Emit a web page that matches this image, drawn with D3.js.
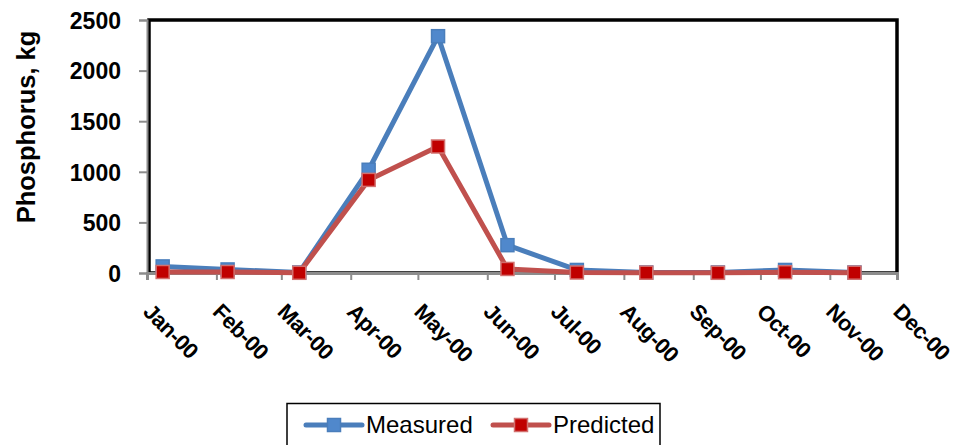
<!DOCTYPE html>
<html lang="en">
<head>
    <meta charset="UTF-8">
    <title>Phosphorus</title>
    <script src="https://cdn.jsdelivr.net/npm/d3@7"></script>
    <style>
        html, body {
            margin: 0;
            padding: 0;
            background: #fff;
            overflow: hidden;
        }
        .tick-label {
            font-family: "Liberation Sans", Arial, sans-serif;
            font-weight: bold;
            font-size: 23px;
            fill: #000;
        }
        .month-label {
            font-size: 22px;
            letter-spacing: -0.5px;
        }
        .line {
            fill: none;
            stroke-width: 5px;
            stroke-linejoin: round;
        }
    </style>
</head>
<body>
</body>
<script>
    // months shown on the axis and the sample dates
    let monthTicks = ['2000-01-01', '2000-02-01', '2000-03-01', '2000-04-01', '2000-05-01', '2000-06-01',
        '2000-07-01', '2000-08-01', '2000-09-01', '2000-10-01', '2000-11-01', '2000-12-01'];
    let sampleDates = ['2000-01-08', '2000-02-06', '2000-03-09', '2000-04-09', '2000-05-10', '2000-06-10',
        '2000-07-11', '2000-08-11', '2000-09-12', '2000-10-12', '2000-11-12'];
    let measured = [65, 35, 5, 1020, 2340, 275, 30, 5, 5, 30, 5];
    let predicted = [10, 10, 2, 920, 1250, 40, 5, 3, 2, 8, 3];
    let yTicks = [0, 500, 1000, 1500, 2000, 2500];
    let seriesNames = ['Measured', 'Predicted'];

    let width = 958;
    let height = 445;
    let margin = {top: 20, right: 61, bottom: 172, left: 147};

    let parse = d3.utcParse('%Y-%m-%d');
    let fmt = d3.utcFormat('%b-%y');

    let svg = d3.select('body').append('svg')
        .attr('width', width)
        .attr('height', height);

    let x = d3.scaleUtc()
        .domain([parse(monthTicks[0]), parse(monthTicks[monthTicks.length - 1])])
        .range([margin.left, width - margin.right]);

    let y = d3.scaleLinear()
        .domain([0, 2500])
        .range([height - margin.bottom, margin.top]);

    let series = [
        {name: seriesNames[0], values: measured, line: '#4A7EBB', fill: '#5088CC', edge: '#4A7EBB'},
        {name: seriesNames[1], values: predicted, line: '#C0504D', fill: '#C00000', edge: '#D2706E'}
    ];

    // plot area frame
    svg.append('rect')
        .attr('x', x.range()[0] + 2)
        .attr('y', y(2500))
        .attr('width', x.range()[1] - x.range()[0] - 2)
        .attr('height', y(0) - y(2500))
        .attr('fill', 'none')
        .attr('stroke', '#000')
        .attr('stroke-width', 3.5);

    // y axis
    let yAxis = svg.append('g')
        .attr('transform', `translate(${x.range()[0]},0)`)
        .call(d3.axisLeft(y).tickValues(yTicks).tickSize(8).tickPadding(18).tickFormat(d3.format('d')));
    yAxis.attr('font-family', null).attr('font-size', null);
    yAxis.select('.domain').attr('stroke', '#8c8c8c').attr('stroke-width', 2);
    yAxis.selectAll('.tick line').attr('stroke', '#8c8c8c').attr('stroke-width', 2);
    yAxis.selectAll('.tick text')
        .attr('class', 'tick-label')
        .attr('dy', '0.36em');

    // x axis
    let xAxis = svg.append('g')
        .attr('transform', `translate(0,${y(0)})`)
        .call(d3.axisBottom(x).tickValues(monthTicks.map(parse)).tickSize(7).tickFormat(''));
    xAxis.select('.domain').attr('stroke', '#8c8c8c').attr('stroke-width', 3);
    xAxis.selectAll('.tick line').attr('stroke', '#8c8c8c').attr('stroke-width', 2);

    svg.append('g')
        .selectAll('text')
        .data(monthTicks.map(parse)).enter()
        .append('text')
        .classed('tick-label', true)
        .classed('month-label', true)
        .attr('transform', d => `translate(${x(d) - 5},${y(0) + 40}) rotate(45)`)
        .text(d => fmt(d));

    // y axis title
    svg.append('text')
        .attr('transform', `translate(35,127) rotate(-90)`)
        .attr('text-anchor', 'middle')
        .style('font-family', '"Liberation Sans", Arial, sans-serif')
        .style('font-weight', 'bold')
        .style('font-size', '25.5px')
        .text('Phosphorus, kg');

    // lines and markers
    let line = d3.line()
        .x((d, i) => x(parse(sampleDates[i])))
        .y(d => y(d));

    let ms = 13;
    series.forEach(s => {
        svg.append('path')
            .datum(s.values)
            .classed('line', true)
            .attr('stroke', s.line)
            .attr('d', line);
        svg.append('g')
            .selectAll('rect')
            .data(s.values).enter()
            .append('rect')
            .attr('x', (d, i) => x(parse(sampleDates[i])) - ms / 2)
            .attr('y', d => y(d) - ms / 2)
            .attr('width', ms)
            .attr('height', ms)
            .attr('fill', s.fill)
            .attr('stroke', s.edge)
            .attr('stroke-width', 1.5);
    });

    // legend
    let legend = svg.append('g');
    legend.append('rect')
        .attr('x', 287)
        .attr('y', 403.5)
        .attr('width', 373)
        .attr('height', 60)
        .attr('fill', '#fff')
        .attr('stroke', '#000')
        .attr('stroke-width', 1.5);

    let legendX = [306, 493];
    series.forEach((s, i) => {
        let g = legend.append('g').attr('transform', `translate(${legendX[i]},425)`);
        g.append('line')
            .attr('x1', 0).attr('x2', 56)
            .attr('stroke', s.line)
            .attr('stroke-width', 5)
            .attr('stroke-linecap', 'round');
        g.append('rect')
            .attr('x', 28 - ms / 2).attr('y', -ms / 2)
            .attr('width', ms).attr('height', ms)
            .attr('fill', s.fill)
            .attr('stroke', s.edge)
            .attr('stroke-width', 1.5);
        g.append('text')
            .attr('x', 60)
            .attr('y', 8)
            .style('font-family', '"Liberation Sans", Arial, sans-serif')
            .style('font-size', '24px')
            .text(s.name);
    });
</script>
</html>
